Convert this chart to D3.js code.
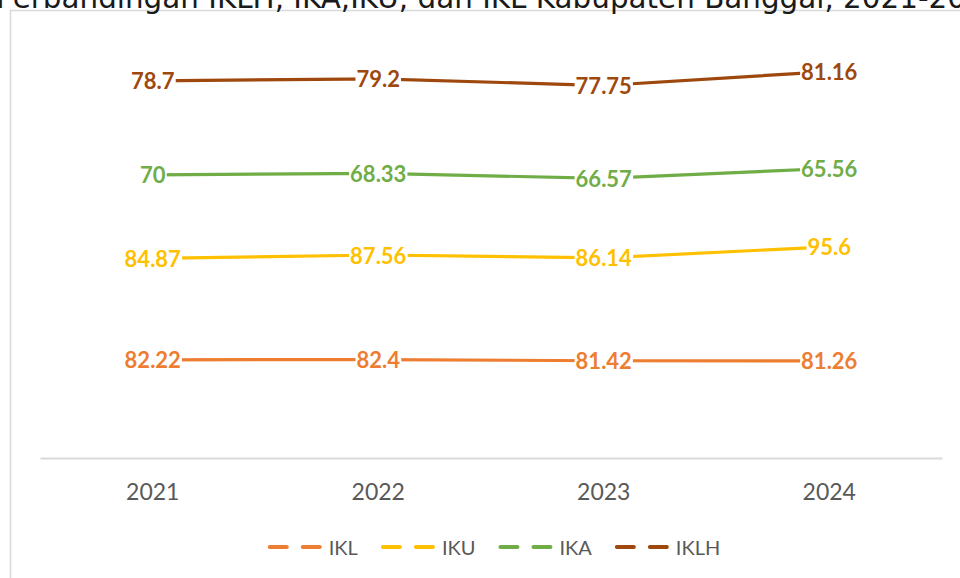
<!DOCTYPE html>
<html>
<head>
<meta charset="utf-8">
<script src="https://cdn.jsdelivr.net/npm/d3@7"></script>
<style>
  html, body { margin: 0; padding: 0; background: #fff; }
  svg { display: block; }
</style>
</head>
<body>
<svg id="chart" width="960" height="578"></svg>
<script>
const years = ["2021", "2022", "2023", "2024"];
const seriesNames = ["IKL", "IKU", "IKA", "IKLH"];
const IKL  = [82.22, 82.4, 81.42, 81.26];
const IKU  = [84.87, 87.56, 86.14, 95.6];
const IKA  = [70, 68.33, 66.57, 65.56];
const IKLH = [78.7, 79.2, 77.75, 81.16];
const colors = ["#ED7D31", "#FFC000", "#70AD47", "#9E480E"];
const titleText = "Perbandingan IKLH, IKA,IKU, dan IKL Kabupaten Banggai, 2021-2024";

const table = years.map((y, i) => ({ year: y, IKL: IKL[i], IKU: IKU[i], IKA: IKA[i], IKLH: IKLH[i] }));
const stacked = d3.stack().keys(seriesNames)(table);

const svg = d3.select("#chart");

// frame
svg.append("rect").attr("x", 10.5).attr("y", 10.5).attr("width", 1200).attr("height", 1200)
  .attr("fill", "none").attr("stroke", "#D9D9D9").attr("stroke-width", 1.5);

// title (cut at top, as in the reference)
svg.append("text").attr("x", -4).attr("y", 7.5)
  .attr("font-family", "DejaVu Sans").attr("font-size", 29.4).attr("fill", "#1a1a1a")
  .text(titleText);

const x = d3.scaleBand().domain(years).range([40, 942]);
const y = d3.scaleLinear().domain([0, 350]).range([458, 40]);
const cx = d => x(d) + x.bandwidth() / 2;

// category axis
const xAxis = svg.append("g").attr("transform", "translate(0,458)")
  .call(d3.axisBottom(x).tickSize(0).tickPadding(26));
xAxis.select(".domain").attr("stroke", "#D9D9D9").attr("stroke-width", 2);
xAxis.selectAll("text").attr("font-family", "Lato").attr("font-size", 23).attr("fill", "#595959");

// lines
const line = d3.line().x(d => cx(d.data.year)).y(d => y(d[1]));
svg.append("g").selectAll("path").data(stacked).join("path")
  .attr("d", d => line(d))
  .attr("fill", "none")
  .attr("stroke", (d, i) => colors[i])
  .attr("stroke-width", 3.2)
  .attr("stroke-linejoin", "round")
  .attr("stroke-linecap", "round");

// data labels with white background
const lg = svg.append("g");
stacked.forEach((s, si) => {
  s.forEach(d => {
    const g = lg.append("g");
    const t = g.append("text")
      .attr("x", cx(d.data.year)).attr("y", y(d[1]))
      .attr("text-anchor", "middle").attr("dominant-baseline", "central")
      .attr("font-family", "Lato").attr("font-weight", "bold").attr("font-size", 22)
      .attr("fill", colors[si])
      .text(d.data[s.key]);
    const bb = t.node().getBBox();
    g.insert("rect", "text")
      .attr("x", bb.x - 1).attr("y", bb.y + 3)
      .attr("width", bb.width + 2).attr("height", bb.height - 6)
      .attr("fill", "#fff");
  });
});

// legend
const leg = svg.append("g");
let lx = 0;
seriesNames.forEach((name, i) => {
  const g = leg.append("g").attr("transform", `translate(${lx},0)`);
  g.append("line").attr("x1", 2).attr("x2", 19).attr("y1", 0).attr("y2", 0)
    .attr("stroke", colors[i]).attr("stroke-width", 4).attr("stroke-linecap", "round");
  g.append("line").attr("x1", 35).attr("x2", 52).attr("y1", 0).attr("y2", 0)
    .attr("stroke", colors[i]).attr("stroke-width", 4).attr("stroke-linecap", "round");
  const t = g.append("text").attr("x", 61).attr("y", 0).attr("dominant-baseline", "central")
    .attr("font-family", "Lato").attr("font-size", 20).attr("fill", "#595959").text(name);
  const w = 61 + t.node().getComputedTextLength();
  lx += w + 23;
});
const totalW = lx - 23;
leg.attr("transform", `translate(${494 - totalW / 2},547)`);
</script>
</body>
</html>
